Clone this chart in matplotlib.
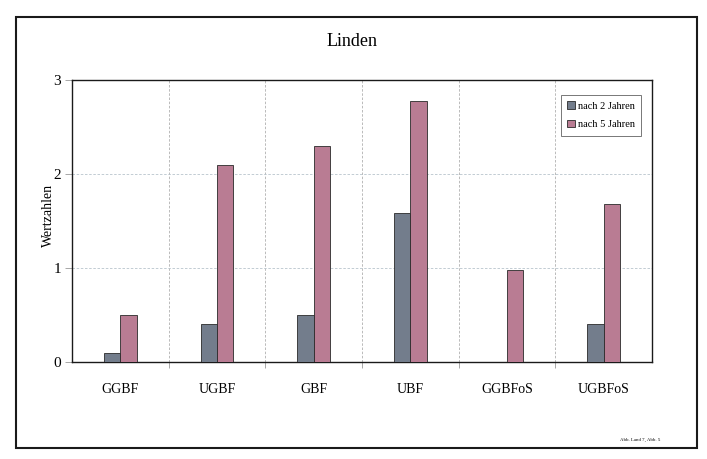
import numpy as np
import matplotlib.pyplot as plt
from matplotlib.patches import Rectangle

# ____________________________________________________DATA____________________________________________________________ #
categories = ['GGBF', 'UGBF', 'GBF', 'UBF', 'GGBFoS', 'UGBFoS']
after2 = [0.1, 0.4, 0.5, 1.58, 0.0, 0.4]          # Wertzahlen nach 2 Jahren
after5 = [0.5, 2.1, 2.3, 2.78, 0.98, 1.68]        # Wertzahlen nach 5 Jahren
series_labels = ['nach 2 Jahren', 'nach 5 Jahren']
yticks = [0, 1, 2, 3]

plt.rcParams['font.family'] = ['Liberation Serif', 'DejaVu Serif']

# ___________________________________________________FIGURE___________________________________________________________ #
W, H = 707, 459
fig = plt.figure(figsize=(W / 100, H / 100), dpi=100)
fig.patch.set_facecolor('white')

# outer chart frame
fig.patches.append(Rectangle((16 / W, 1 - 448 / H), (697 - 16) / W, (448 - 17) / H,
                             transform=fig.transFigure, fill=False, lw=1.5, ec='#1a1a1a'))

ax = fig.add_axes([72 / W, 1 - 362 / H, 580 / W, 282 / H])

x = np.arange(len(categories))
bw = 0.17
ax.bar(x - bw / 2, after2, bw, color='#737d8c', edgecolor='#2a2a2a', lw=0.6,
       label=series_labels[0], zorder=3)
ax.bar(x + bw / 2, after5, bw, color='#b97c93', edgecolor='#2a2a2a', lw=0.6,
       label=series_labels[1], zorder=3)

ax.set_xlim(-0.5, len(categories) - 0.5)
ax.set_ylim(0, 3)
ax.set_yticks(yticks)
ax.set_yticklabels([str(t) for t in yticks], fontsize=11)
ax.set_xticks(x)
ax.set_xticklabels(categories, fontsize=10)
ax.tick_params(axis='x', length=0, pad=15)
ax.tick_params(axis='y', length=5, width=0.6, color='#999999', pad=3)

# gridlines between groups and at the value steps
ax.set_xticks(np.arange(0.5, len(categories) - 1, 1), minor=True)
ax.tick_params(axis='x', which='minor', length=4, width=0.6, color='#999999')
ax.grid(axis='x', which='minor', ls=(0, (3, 2)), lw=0.6, color='#b0b0b0', zorder=0)
ax.grid(axis='y', which='major', ls=(0, (3, 2)), lw=0.6, color='#b8c4cc', zorder=0)

for s in ax.spines.values():
    s.set_linewidth(1.0)
    s.set_color('#1a1a1a')

ax.set_ylabel('Wertzahlen', fontsize=10)
ax.yaxis.set_label_coords((55 - 72) / 580, 0.52)
fig.text(352 / W, 1 - 42 / H, 'Linden', ha='center', va='center', fontsize=13)

leg = ax.legend(loc='upper right', bbox_to_anchor=(0.99, 0.965), fontsize=7.5,
                frameon=True, fancybox=False, handlelength=0.7, handleheight=0.7,
                handletextpad=0.3, borderpad=0.6, labelspacing=0.9)
leg.get_frame().set_edgecolor('#555555')
leg.get_frame().set_linewidth(0.7)

fig.text(640 / W, 1 - 440 / H, 'Abb. Land 7, Abb. 5', ha='center', va='center', fontsize=3.5)

fig.savefig('out.png', dpi=100)
